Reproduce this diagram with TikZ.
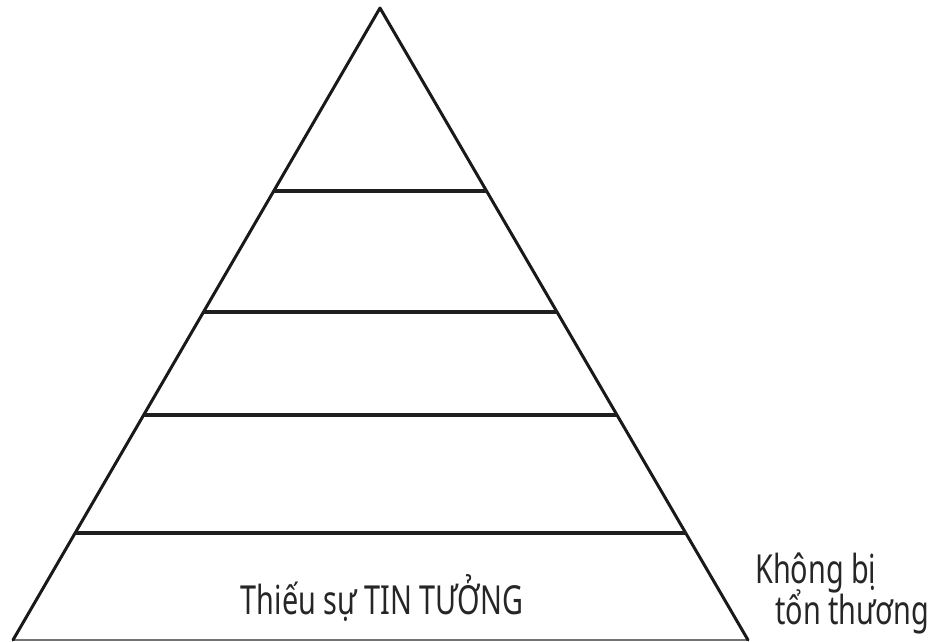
\documentclass[tikz,border=0pt]{standalone}
\usepackage{fontspec}
\newfontfamily\hand[FakeStretch=0.72]{Noto Sans}
\usetikzlibrary{calc}
\tikzset{
  edge/.style={line width=3pt, black!90, line cap=round, line join=round},
  tier/.style={line width=3.6pt, black!88},
  baseline/.style={line width=2pt, black!55},
  label/.style={font=\hand\fontsize{40}{44}\selectfont, text=black!85, inner sep=0pt}
}
\begin{document}
\begin{tikzpicture}[x=1pt,y=-1pt]
\useasboundingbox (0,0) rectangle (939,641);
\coordinate (apex) at (380,8);
\coordinate (bl) at (13,640);
\coordinate (br) at (748,640);
\draw[baseline] (bl) -- (br);
\draw[edge] (bl) -- (apex) -- (br);
\foreach \t/\n in {0.2896/a,0.481/b,0.644/c,0.8307/d}{
  \coordinate (l\n) at ($(apex)!\t!(bl)$);
  \coordinate (r\n) at ($(apex)!\t!(br)$);
  \draw[tier] (l\n) -- (r\n);
}
\node[label] (trust) at (382,598) {Thiếu sự TIN TƯỞNG};
\node[label, anchor=west] (k1) at (755,573) {Không bị};
\node[label, anchor=west] (k2) at (775,612) {tổn thương};
\end{tikzpicture}
\end{document}
